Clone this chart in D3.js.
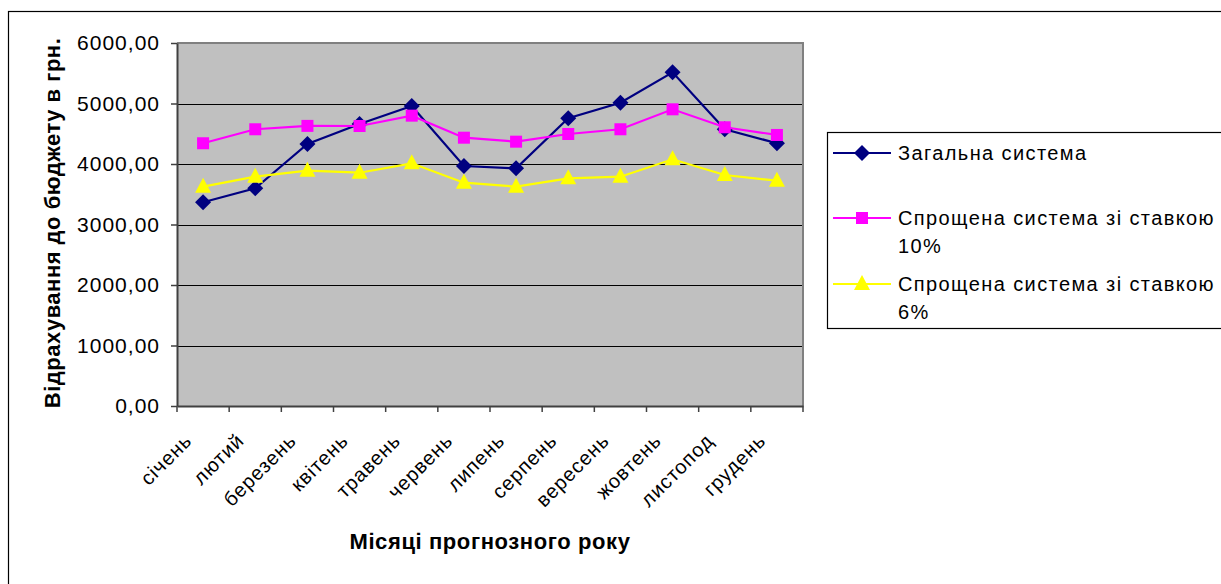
<!DOCTYPE html>
<html><head><meta charset="utf-8">
<script src="https://cdn.jsdelivr.net/npm/d3@7"></script>
<style>body{margin:0;background:#fff}svg{display:block}text{font-family:"Liberation Sans",Arial,sans-serif}</style>
</head><body><svg id="c" width="1221" height="584"></svg>
<script>
const months = ["січень","лютий","березень","квітень","травень","червень","липень","серпень","вересень","жовтень","листопод","грудень"];
const generalSystem = [3367,3598,4331,4660,4960,3967,3929,4756,5013,5516,4574,4343];
const simplified10 = [4343,4574,4630,4628,4799,4435,4369,4496,4574,4904,4607,4480];
const simplified6 = [3625,3790,3889,3856,4011,3691,3625,3763,3790,4078,3818,3724];
const yTicks = [0,1000,2000,3000,4000,5000,6000];
const seriesNames = [["Загальна система"],["Спрощена система зі ставкою","10%"],["Спрощена система зі ставкою","6%"]];
const seriesColors = ["#000080","#FF00FF","#FFFF00"];
const seriesMarkers = ["diamond","square","triangle"];

const svg = d3.select("#c");
const L=177, R=803, T=43, B=406;
const x = d3.scaleBand().domain(months).range([L,R]);
const y = d3.scaleLinear().domain([0,6000]).range([B,T]);

svg.append("rect").attr("x",8.5).attr("y",11.5).attr("width",1230).attr("height",600)
  .attr("fill","none").attr("stroke","#000").attr("stroke-width",1.2);

svg.append("rect").attr("x",L).attr("y",T).attr("width",R-L).attr("height",B-T).attr("fill","#C0C0C0");
svg.append("g").selectAll("line").data(yTicks.filter(d=>d>0&&d<6000)).join("line")
  .attr("x1",L).attr("x2",R).attr("y1",d=>Math.round(y(d))+0.5).attr("y2",d=>Math.round(y(d))+0.5)
  .attr("stroke","#000").attr("stroke-width",1);
svg.append("path").attr("d",`M${L},${T} H${R} V${B}`).attr("fill","none").attr("stroke","#808080").attr("stroke-width",2);

const yAxis = svg.append("g").attr("transform",`translate(${L},0)`)
  .call(d3.axisLeft(y).tickValues(yTicks).tickSize(6).tickSizeOuter(0).tickFormat(d=>d3.format(".2f")(d).replace(".",",")));
yAxis.select(".domain").attr("stroke","#404040").attr("stroke-width",2);
yAxis.selectAll(".tick line").attr("stroke","#404040").attr("stroke-width",1.5);
yAxis.selectAll(".tick text").attr("x",-17).attr("font-size","21px").attr("letter-spacing","1px").attr("fill","#000")
  .attr("font-family","Liberation Sans, Arial, sans-serif");

const xAxis = svg.append("g").attr("transform",`translate(0,${B})`)
  .call(d3.axisBottom(x).tickSize(0).tickSizeOuter(0));
xAxis.select(".domain").attr("stroke","#404040").attr("stroke-width",2);
svg.append("g").selectAll("line").data(months.concat(["__end"])).join("line")
  .attr("x1",(d,i)=>L+i*x.step()).attr("x2",(d,i)=>L+i*x.step())
  .attr("y1",B).attr("y2",B+6).attr("stroke","#404040").attr("stroke-width",1.5);
xAxis.selectAll(".tick text")
  .attr("font-size","20px").attr("letter-spacing","0.9px").attr("fill","#000")
  .attr("font-family","Liberation Sans, Arial, sans-serif")
  .attr("text-anchor","end").attr("dy",null).attr("y",0)
  .attr("transform","translate(-10,36) rotate(-45)");

svg.append("text").attr("transform","translate(60,223) rotate(-90)").attr("text-anchor","middle")
  .attr("font-size","22px").attr("font-weight","bold").attr("letter-spacing","0.5px").text("Відрахування до бюджету в грн.");
svg.append("text").attr("x",490).attr("y",549).attr("text-anchor","middle")
  .attr("font-size","22px").attr("font-weight","bold").attr("letter-spacing","0.6px").text("Місяці прогнозного року");

const allSeries = [generalSystem, simplified10, simplified6];
const line = d3.line().x((d,i)=>x(months[i])+x.bandwidth()/2).y(d=>y(d));
function marker(g, type, color, cx, cy){
  if(type==="diamond") g.append("path").attr("d",`M${cx},${cy-8}L${cx+8},${cy}L${cx},${cy+8}L${cx-8},${cy}Z`).attr("fill",color);
  else if(type==="square") g.append("rect").attr("x",cx-6).attr("y",cy-6).attr("width",12).attr("height",12).attr("fill",color);
  else g.append("path").attr("d",`M${cx},${cy-9}L${cx+8},${cy+6}L${cx-8},${cy+6}Z`).attr("fill",color);
}
allSeries.forEach((s,k)=>{
  const g = svg.append("g");
  g.append("path").datum(s).attr("d",line).attr("fill","none").attr("stroke",seriesColors[k]).attr("stroke-width",2.2);
  s.forEach((v,i)=>marker(g, seriesMarkers[k], seriesColors[k], x(months[i])+x.bandwidth()/2, y(v)));
});

svg.append("rect").attr("x",827.5).attr("y",132.5).attr("width",420).attr("height",196)
  .attr("fill","#fff").attr("stroke","#000").attr("stroke-width",1.2);
const legY = [153,218,284];
seriesNames.forEach((nm,k)=>{
  const g = svg.append("g");
  g.append("line").attr("x1",833).attr("x2",891).attr("y1",legY[k]).attr("y2",legY[k]).attr("stroke",seriesColors[k]).attr("stroke-width",2);
  marker(g, seriesMarkers[k], seriesColors[k], 862, legY[k]);
  nm.forEach((t,j)=>{
    g.append("text").attr("x",898).attr("y",legY[k]+7+j*28).attr("font-size","20px").attr("letter-spacing","1.4px").text(t);
  });
});
</script></body></html>
